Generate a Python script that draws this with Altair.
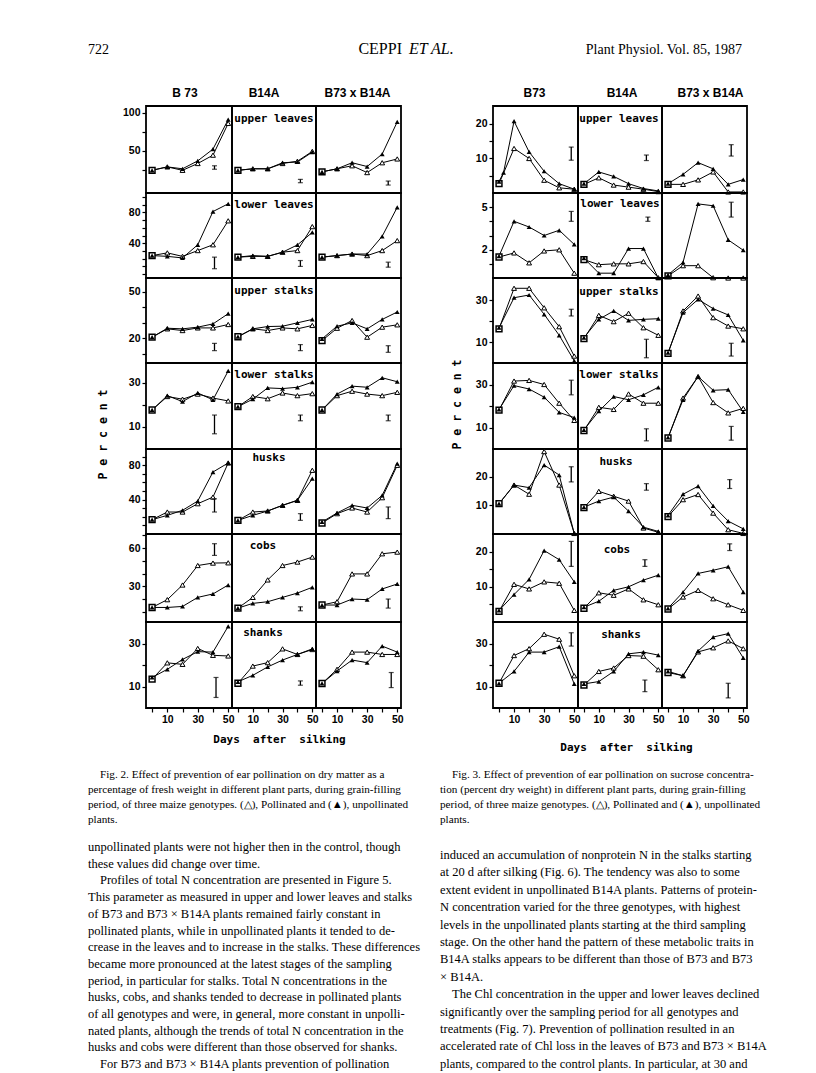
import json
import altair as alt
import pandas as pd

# ---------------- data read from the page ----------------
DAYS = [0, 10, 20, 30, 40, 50]
DAYS_EARLY = [0, 3, 10, 20, 30, 40, 50]
X_TICKS = [0, 10, 20, 30, 40, 50]
X_LABELS = [10, 30, 50]
X_DOMAIN = [-4, 52.5]

PARTS = ["upper leaves", "lower leaves", "upper stalks", "lower stalks", "husks", "cobs", "shanks"]
F2_GENOTYPES = ["B 73", "B14A", "B73 x B14A"]
F3_GENOTYPES = ["B73", "B14A", "B73 x B14A"]

# Fig. 2 : dry matter, % of fresh weight  (open = pollinated, filled = unpollinated)
# lists are per genotype: B73, B14A, B73 x B14A ; lsd = (day, low, high)
f2_upper_leaves = {
    "open":   [[24, 28.5, 24, 33, 44, 86], [24, 26, 26, 33, 36, 49], [22, 26, 30, 21, 34, 39]],
    "filled": [[24, 28.5, 26, 36.5, 52, 91], [24, 26, 26, 34, 35, 48], [22, 26, 34, 29, 45.5, 88]],
    "lsd": [(41, 25.4, 30), (42, 7.6, 12), (44, 4.5, 9.8)],
}
f2_lower_leaves = {
    "open":   [[24, 27.5, 23, 30.5, 38, 69], [22, 23, 23, 28.4, 30.5, 61.5], [22, 24, 26, 24, 30.5, 43.4]],
    "filled": [[24, 23, 21, 38, 81, 91], [22, 24, 23, 28.4, 37.8, 54], [22, 24, 26, 26, 49, 86.5]],
    "lsd": [(41, 7, 22), (42, 10, 17.6), (44, 9, 15.5)],
}
f2_upper_stalks = {
    "open":   [[20.7, 26.1, 25, 26.7, 26.7, 28.9], [21, 26.1, 25, 26.7, 26.1, 28.3], [18.5, 26.5, 31.5, 20.7, 27.2, 28.7]],
    "filled": [[20.7, 26.5, 26.1, 27.2, 29.3, 35.9], [21, 26.1, 27.6, 27.8, 30, 32.2], [19.6, 27.8, 30, 26.1, 32.2, 37]],
    "lsd": [(41, 12, 16.7), (42, 12, 15.9), (44, 10.9, 15.2)],
}
f2_lower_stalks = {
    "open":   [[17.7, 23.8, 22.6, 24.9, 23.1, 21.8], [19.2, 23.8, 22.8, 25.4, 24.2, 25.1], [17.7, 24.2, 26.2, 24.9, 24.2, 25.7]],
    "filled": [[17.7, 24.2, 21.5, 25.4, 22.3, 35.4], [19.2, 22.6, 27.7, 27.4, 28, 30.3], [17.7, 24.9, 28.5, 28, 32.3, 30.5]],
    "lsd": [(41, 6.9, 15.4), (42, 12.8, 15.4), (44, 12.8, 15.4)],
}
f2_husks = {
    "open":   [[16.7, 25.6, 25.6, 35.3, 43, 82.7], [15.9, 25.6, 26.8, 33.4, 39.2, 74.2], [12.8, 23.7, 30.3, 25.6, 42.3, 80]],
    "filled": [[16.7, 21.7, 27.6, 38.4, 72.2, 82.7], [15.9, 21.7, 26.8, 33.4, 39.2, 64.5], [14, 24.5, 33.4, 30.3, 45, 82]],
    "lsd": [(41, 25.6, 41), (42, 15.9, 23.7), (44, 17.9, 31.5)],
}
f2_cobs = {
    "open":   [[13.4, 19.5, 31, 46.3, 48.2, 48.4], [12.9, 21.3, 35, 46.3, 49, 52.9], [15.3, 17.9, 39.7, 39.7, 55.5, 56.8]],
    "filled": [[13.4, 13.4, 14.2, 21.3, 24, 31], [12.9, 16.6, 17.9, 21.3, 24.7, 29.2], [15.3, 15.3, 20, 19.5, 27.9, 31.8]],
    "lsd": [(41, 54.2, 63.4), (42, 10.8, 13.9), (44, 12.9, 20)],
}
f2_shanks = {
    "open":   [[13.4, 21, 20.3, 27.7, 24.5, 24.2], [11.5, 19.5, 21.1, 27.5, 24.9, 27.2], [11.4, 18, 26, 26, 24.9, 24.9]],
    "filled": [[14.2, 18, 22.6, 26.2, 26, 38], [12.2, 15.2, 19.1, 22.3, 24.9, 27.5], [11.4, 17.2, 22.3, 21.1, 28.8, 26]],
    "lsd": [(42, 4.9, 14.2), (42, 10.6, 12.6), (46, 9.5, 16.5)],
}
f2_y_domain = [[-6, 109], [-5, 105], [4, 59], [0, 39], [0, 99], [2, 71], [0, 40]]
f2_y_ticks = [[25, 50, 75, 100], [0, 10, 20, 30, 40, 50, 60, 70, 80, 90, 100], [10, 20, 30, 40, 50],
              [10, 20, 30], [10, 20, 30, 40, 50, 60, 70, 80, 90], [10, 20, 30, 40, 50, 60, 70], [10, 20, 30]]
f2_y_labels = [[50, 100], [40, 80], [20, 50], [10, 30], [40, 80], [30, 60], [10, 30]]

# Fig. 3 : sucrose, % dry weight
f3_upper_leaves = {
    "days": [DAYS_EARLY, DAYS, DAYS],
    "open":   [[2.7, None, 12.9, 10, 3.7, 1.5, 1.1], [2.5, 4.4, 2.3, 1.7, 1.1, 0.4], [2.5, 2.5, 3.8, 6.1, 0.3, 0.3]],
    "filled": [[3.3, 5.9, 20.8, 11.9, 6.3, 2.7, 1.1], [2.7, 6.1, 4.8, 2.7, 1.3, 0.6], [2.7, 5.4, 8.8, 7, 2.5, 3.9]],
    "lsd": [(48, 9.5, 13.3), (42, 9.4, 11), (42, 10.7, 14)],
}
f3_lower_leaves = {
    "open":   [[1.48, 1.77, 1.07, 1.91, 1.99, 0.34], [1.3, 0.94, 1.0, 1.0, 1.16, 0.02], [0.15, 0.87, 0.87, 0.02, 0, 0]],
    "filled": [[1.55, 4.0, 3.6, 3.0, 3.37, 2.37], [1.4, 0.34, 0.34, 2.08, 2.08, 0], [0.22, 1.11, 5.23, 5.1, 2.69, 1.96]],
    "lsd": [(48, 4.0, 4.7), (43, 4.0, 4.3), (42, 4.3, 5.35)],
}
f3_upper_stalks = {
    "open":   [[16.3, 35.6, 35.6, 26.3, 17.3, 3.3], [11.6, 22.7, 19.7, 23.7, 16.8, 13.2], [4.6, 24.8, 31.9, 21.6, 17.6, 16.3]],
    "filled": [[16.8, 31.1, 32.4, 23.2, 13.2, 1], [12.1, 20.8, 24.8, 20.3, 20.8, 21.1], [4.9, 24, 30.3, 25.9, 22.9, 10.8]],
    "lsd": [(48, 22.4, 25.6), (42, 2.5, 11.3), (42, 3.3, 9.4)],
}
f3_lower_stalks = {
    "open":   [[18.1, 31.6, 31.9, 30, 21.3, 13.3], [8.6, 19.4, 18.4, 25.6, 21.3, 21.3], [5.1, 23.7, 33.7, 21.6, 16.8, 18.9]],
    "filled": [[18.4, 29.5, 27.9, 24.1, 17, 14.6], [8.9, 17.6, 24.4, 22.9, 25.2, 28.7], [5.4, 22.9, 33.7, 27.3, 27.6, 17.3]],
    "lsd": [(48, 25.2, 32), (42, 3.8, 9.4), (42, 4.1, 10.5)],
}
f3_husks = {
    "open":   [[10.6, 17.1, 13.9, 28.8, 17.1, 0.2], [9.2, 14.9, 13.2, 11.5, 2.1, 0.6], [6.1, 12, 13.8, 7.3, 1.5, 0.2]],
    "filled": [[10.6, 17.1, 16.2, 24.1, 20.6, 0.2], [9.4, 11.5, 12.9, 8, 2.4, 0.9], [6.5, 13.9, 16.7, 9.8, 4.5, 1.8]],
    "lsd": [(48, 18.2, 23.5), (42, 15.3, 17.6), (41, 15.9, 19)],
}
f3_cobs = {
    "open":   [[3, 10.7, 9.4, 11.4, 11, 3.3], [3.9, 8.3, 7.6, 9.4, 6.3, 4.9], [3.7, 7.1, 9, 6.6, 4.9, 3.3]],
    "filled": [[3.3, 7.8, 12.1, 20.3, 17.7, 11.4], [4.2, 5.9, 9, 10, 11.9, 13.3], [3.9, 8.5, 13.8, 14.7, 15.7, 8.5]],
    "lsd": [(48, 15.8, 22.9), (41, 15.8, 17.7), (41, 20.3, 22.2)],
}
f3_shanks = {
    "open":   [[11.5, 24.4, 27.6, 34.3, 32, 15], [10.7, 17, 18.6, 24.4, 24.1, 17.8], [16.5, 15, 26.1, 28, 31.2, 27.6]],
    "filled": [[11.5, 17, 26, 26, 28.5, 11.2], [11.2, 12.3, 17, 25.2, 26, 24.6], [17, 15, 26.5, 33, 34.6, 23.3]],
    "lsd": [(48, 28.8, 35), (41, 7.6, 13), (40, 4.7, 11.5)],
}
f3_y_domain = [[0, 25.2], [0, 6], [0, 40.5], [0, 40], [0, 29.7], [0, 25], [0, 40]]
f3_y_ticks = [[5, 10, 15, 20], [1, 2, 3, 4, 5], [10, 20, 30], [10, 20, 30], [10, 20], [5, 10, 15, 20], [10, 20, 30]]
f3_y_labels = [[10, 20], [2, 5], [10, 30], [10, 30], [10, 20], [10, 20], [10, 30]]

# page text
header_left = "722"
header_mid_a = "CEPPI"
header_mid_b = "ET AL."
header_right = "Plant Physiol. Vol. 85, 1987"

caption_fig2 = [
    "Fig. 2. Effect of prevention of ear pollination on dry matter as a",
    "percentage of fresh weight in different plant parts, during grain-filling",
    "period, of three maize genotypes. (\u25b3), Pollinated and (\u25b2), unpollinated",
    "plants.",
]
caption_fig3 = [
    "Fig. 3. Effect of prevention of ear pollination on sucrose concentra-",
    "tion (percent dry weight) in different plant parts, during grain-filling",
    "period, of three maize genotypes. (\u25b3), Pollinated and (\u25b2), unpollinated",
    "plants.",
]
body_left = [
    "unpollinated plants were not higher then in the control, though",
    "these values did change over time.",
    "Profiles of total N concentration are presented in Figure 5.",
    "This parameter as measured in upper and lower leaves and stalks",
    "of B73 and B73 \u00d7 B14A plants remained fairly constant in",
    "pollinated plants, while in unpollinated plants it tended to de-",
    "crease in the leaves and to increase in the stalks. These differences",
    "became more pronounced at the latest stages of the sampling",
    "period, in particular for stalks. Total N concentrations in the",
    "husks, cobs, and shanks tended to decrease in pollinated plants",
    "of all genotypes and were, in general, more constant in unpolli-",
    "nated plants, although the trends of total N concentration in the",
    "husks and cobs were different than those observed for shanks.",
    "For B73 and B73 \u00d7 B14A plants prevention of pollination",
]
body_left_indent = [2, 13]
body_right = [
    "induced an accumulation of nonprotein N in the stalks starting",
    "at 20 d after silking (Fig. 6). The tendency was also to some",
    "extent evident in unpollinated B14A plants. Patterns of protein-",
    "N concentration varied for the three genotypes, with highest",
    "levels in the unpollinated plants starting at the third sampling",
    "stage. On the other hand the pattern of these metabolic traits in",
    "B14A stalks appears to be different than those of B73 and B73",
    "\u00d7 B14A.",
    "The Chl concentration in the upper and lower leaves declined",
    "significantly over the sampling period for all genotypes and",
    "treatments (Fig. 7). Prevention of pollination resulted in an",
    "accelerated rate of Chl loss in the leaves of B73 and B73 \u00d7 B14A",
    "plants, compared to the control plants. In particular, at 30 and",
]
body_right_indent = [8]

# ---------------- layout / style constants ----------------
NOSTROKE = alt.ViewBackground(strokeOpacity=0)
FRAME = alt.ViewBackground(stroke="black", strokeWidth=1.8, strokeOpacity=1)
MONO = "DejaVu Sans Mono"
SANS = "Liberation Sans"
SERIF = "Liberation Serif"

ROW_H = [87, 85, 85, 86, 85, 88, 86]
LEFT_GAP = 58     # page text column -> Fig. 2 frame
MID_GAP = 92      # Fig. 2 frame -> Fig. 3 frame

FIG2 = dict(parts=[f2_upper_leaves, f2_lower_leaves, f2_upper_stalks, f2_lower_stalks, f2_husks, f2_cobs, f2_shanks],
            genotypes=F2_GENOTYPES, ydom=f2_y_domain, yticks=f2_y_ticks, ylabels=f2_y_labels,
            widths=[86, 84, 85],
            label_x=[42, 42, 42, 42, 37, 31, 31], label_y=[13, 12, 12.5, 12, 9, 11.5, 10.5],
            title_dx=[-4, -10, -1], percent=(-43, 71), xtitle_pad=9, xtitle_dx=5)
FIG3 = dict(parts=[f3_upper_leaves, f3_lower_leaves, f3_upper_stalks, f3_lower_stalks, f3_husks, f3_cobs, f3_shanks],
            genotypes=F3_GENOTYPES, ydom=f3_y_domain, yticks=f3_y_ticks, ylabels=f3_y_labels,
            widths=[85, 84, 85],
            label_x=[41, 42, 41, 41, 38, 39, 43], label_y=[13, 11, 14, 12, 12.5, 16, 13],
            title_dx=[-1, 2, 6], percent=(-36, 41), xtitle_pad=17, xtitle_dx=6)


def in_list_expr(vals):
    return "indexof(" + json.dumps(vals) + ", datum.value) >= 0 ? datum.label : ''"


def make_panel(fig, r, c):
    pdat = fig["parts"][r]
    days = pdat.get("days", [DAYS, DAYS, DAYS])[c]
    rows = []
    for d, v in zip(days, pdat["open"][c]):
        if v is not None:
            rows.append({"day": d, "value": v, "treat": "P"})
    for d, v in zip(days, pdat["filled"][c]):
        if v is not None:
            rows.append({"day": d, "value": v, "treat": "U"})
    df = pd.DataFrame(rows)
    lday, llo, lhi = pdat["lsd"][c]
    lsd_df = pd.DataFrame({"day": [lday], "value": [llo], "value2": [lhi]})
    cap_df = pd.DataFrame({"day": [lday, lday], "value": [llo, lhi]})

    w = fig["widths"][c]
    h = ROW_H[r]
    bottom = r == len(PARTS) - 1

    if bottom:
        xa = dict(values=X_TICKS, labelExpr=in_list_expr(X_LABELS), title=None)
        if c == 1:
            xa.update(title="Days\u00a0\u00a0after\u00a0\u00a0silking", titlePadding=fig["xtitle_pad"],
                      titleX=w / 2 + fig["xtitle_dx"])
        xaxis = alt.Axis(**xa)
    else:
        xaxis = None
    if c == 0:
        ya = dict(values=fig["yticks"][r], labelExpr=in_list_expr(fig["ylabels"][r]), title=None)
        if r == 3:
            px, py = fig["percent"]
            ya.update(title="P e r c e n t", titleX=px, titleY=py, titleAngle=270,
                      titleAlign="center", titleBaseline="middle", titleFontSize=11.5)
        yaxis = alt.Axis(**ya)
    else:
        yaxis = None

    X = alt.X("day:Q", scale=alt.Scale(domain=X_DOMAIN, nice=False, zero=False), axis=xaxis)
    Y = alt.Y("value:Q", scale=alt.Scale(domain=fig["ydom"][r], nice=False, zero=False), axis=yaxis)

    base = alt.Chart(df)
    lines = base.mark_line(color="black", strokeWidth=1).encode(X, Y, detail="treat:N")
    start = base.transform_filter(f"datum.day == {days[0]} && datum.treat == 'P'").mark_point(
        shape="square", filled=True, fill="white", stroke="black", strokeWidth=1.5, size=34, opacity=1
    ).encode(X, Y)
    open_pts = base.transform_filter(f"datum.treat == 'P' && datum.day != {days[0]}").mark_point(
        shape="triangle-up", filled=True, fill="white", stroke="black", strokeWidth=1, size=24, opacity=1
    ).encode(X, Y)
    fill_pts = base.transform_filter("datum.treat == 'U'").mark_point(
        shape="triangle-up", filled=True, color="black", size=24, opacity=1
    ).encode(X, Y)
    rule = alt.Chart(lsd_df).mark_rule(color="black", strokeWidth=1.3).encode(X, Y, y2="value2:Q")
    caps = alt.Chart(cap_df).mark_tick(orient="horizontal", color="black", thickness=1.2, size=5).encode(X, Y)
    layers = [lines, start, open_pts, fill_pts, rule, caps]
    if c == 1:
        lab = alt.Chart(pd.DataFrame({"t": [PARTS[r]]})).mark_text(
            font=MONO, fontWeight="bold", fontSize=11, align="center", baseline="middle", color="black"
        ).encode(text="t:N", x=alt.value(fig["label_x"][r]), y=alt.value(fig["label_y"][r]))
        layers.append(lab)
    ch = alt.layer(*layers).properties(width=w, height=h, view=FRAME)
    if r == 0:
        ch = ch.properties(title=alt.TitleParams(text=fig["genotypes"][c], font=SANS, fontSize=12,
                                                 fontWeight="bold", offset=6, dx=fig["title_dx"][c],
                                                 anchor="middle", color="black"))
    return ch


def blank(w, h, layers=None):
    if layers:
        return alt.layer(*layers).properties(width=w, height=h, view=NOSTROKE)
    return alt.Chart(pd.DataFrame({"a": [0]})).mark_point(opacity=0).encode(
        x=alt.value(0), y=alt.value(0)).properties(width=w, height=h, view=NOSTROKE)


# ---- header text (placed above the first grid cell; origin = left text edge / top of frames)
HEADER_BASE = -52


def htext(t, x, align, italic=False, size=14):
    return alt.Chart(pd.DataFrame({"t": [t]})).mark_text(
        font=SERIF, fontSize=size, align=align, baseline="alphabetic", color="black",
        fontStyle=("italic" if italic else "normal")
    ).encode(text="t:N", x=alt.value(x), y=alt.value(HEADER_BASE))


header_layers = [
    htext(header_left, 0, "left"),
    htext(header_mid_a, 314, "right", size=16),
    htext(header_mid_b, 321, "left", italic=True, size=16),
    htext(header_right, 654, "right"),
]

# ---- captions and body text (placed below the last grid row)
TEXT_TOP = 756 - 104 - sum(ROW_H[:6])
COL2_X = 352
INDENT = 12
cap_rows = []
for i, t in enumerate(caption_fig2):
    cap_rows.append({"t": t, "x": INDENT if i == 0 else 0, "y": TEXT_TOP + 17 + 15 * i})
for i, t in enumerate(caption_fig3):
    cap_rows.append({"t": t, "x": COL2_X + (INDENT if i == 0 else 0), "y": TEXT_TOP + 17 + 15 * i})
body_rows = []
for i, t in enumerate(body_left):
    body_rows.append({"t": t, "x": INDENT if i in body_left_indent else 0, "y": TEXT_TOP + 89 + 16.7 * i})
for i, t in enumerate(body_right):
    body_rows.append({"t": t, "x": COL2_X + (INDENT if i in body_right_indent else 0),
                      "y": TEXT_TOP + 97 + 17.4 * i})

caps_chart = alt.Chart(pd.DataFrame(cap_rows)).mark_text(
    font=SERIF, fontSize=11.2, align="left", baseline="middle", color="black"
).encode(x=alt.X("x:Q", scale=None, axis=None), y=alt.Y("y:Q", scale=None, axis=None), text="t:N")
body_chart = alt.Chart(pd.DataFrame(body_rows)).mark_text(
    font=SERIF, fontSize=12.5, align="left", baseline="middle", color="black"
).encode(x=alt.X("x:Q", scale=None, axis=None), y=alt.Y("y:Q", scale=None, axis=None), text="t:N")

# ---- one flat grid: [gap, Fig2 x3, gap, Fig3 x3] per row
cells = []
for r in range(len(PARTS)):
    if r == 0:
        cells.append(blank(LEFT_GAP, ROW_H[r], header_layers))
    elif r == len(PARTS) - 1:
        cells.append(blank(LEFT_GAP, ROW_H[r], [caps_chart, body_chart]))
    else:
        cells.append(blank(LEFT_GAP, ROW_H[r]))
    for c in range(3):
        cells.append(make_panel(FIG2, r, c))
    cells.append(blank(MID_GAP, ROW_H[r]))
    for c in range(3):
        cells.append(make_panel(FIG3, r, c))

chart = alt.concat(*cells, columns=8, spacing=0, bounds="flush", align="each").properties(
    padding={"left": 77, "top": 33, "right": 5, "bottom": 5}
).configure_view(strokeOpacity=0).configure_axis(
    labelFont=SANS, labelFontWeight="bold", labelFontSize=10.5, labelColor="black", labelPadding=2,
    tickColor="black", tickWidth=1.2, tickSize=4, domain=False, grid=False,
    titleFont=MONO, titleFontWeight="bold", titleFontSize=11, titleColor="black"
)

chart.save("out.html", embed_options={"renderer": "svg", "actions": False})
